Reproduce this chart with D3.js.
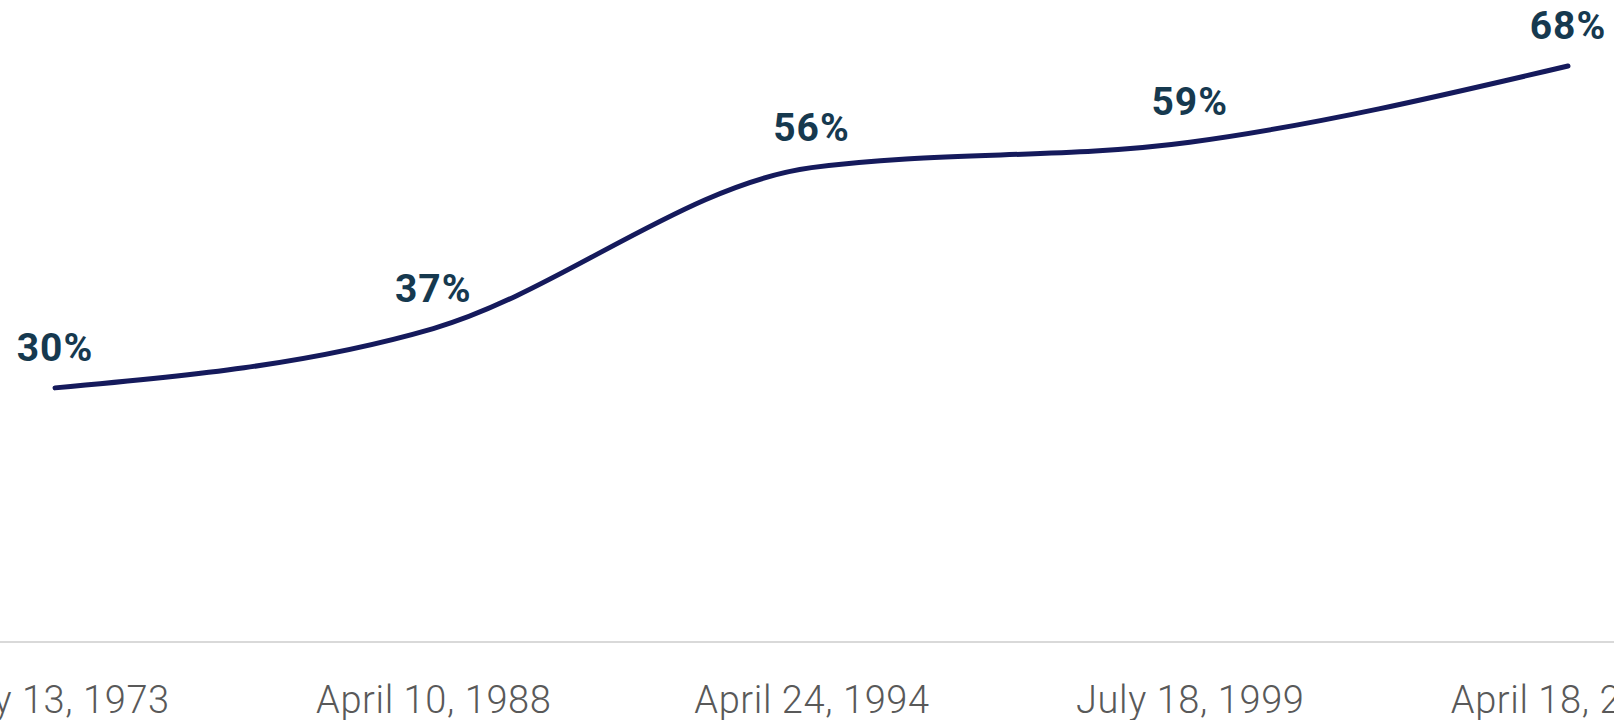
<!DOCTYPE html>
<html>
<head>
<meta charset="utf-8">
<script src="https://cdn.jsdelivr.net/npm/d3@7"></script>
<style>
  body { margin: 0; background: #fff; }
  svg { display: block; }
</style>
</head>
<body>
<div id="chart"></div>
<script>
const width = 1614;
const height = 720;
const margin = {left: 55, right: 46, top: 66, bottom: 78};

// poll dates and share values
const dates = ["July 13, 1973", "April 10, 1988", "April 24, 1994", "July 18, 1999", "April 18, 2004"];
const shares = [30, 37, 56, 59, 68];

const data = dates.map((d, i) => ({date: d, value: shares[i]}));

const svg = d3.select("#chart")
  .append("svg")
  .attr("width", width)
  .attr("height", height);

// evenly spaced categories, first and last point sit on the range ends
const xScale = d3.scalePoint()
  .domain(dates)
  .range([margin.left, width - margin.right]);

const yScale = d3.scaleLinear()
  .domain([0, d3.max(shares)])
  .range([height - margin.bottom, margin.top]);

// bottom axis: light rule, no ticks, grey date labels
const xAxis = svg.append("g")
  .attr("transform", `translate(0,${height - margin.bottom})`)
  .call(d3.axisBottom(xScale).tickSize(0).tickPadding(44));

xAxis.select(".domain")
  .attr("d", `M0,0H${width}`)
  .attr("stroke", "#d9d9d9")
  .attr("stroke-width", 2);

xAxis.selectAll("text")
  .attr("font-family", "Roboto, 'Noto Sans', sans-serif")
  .attr("font-size", "38px")
  .attr("font-weight", 300)
  .attr("letter-spacing", "0.6px")
  .attr("fill", "#595959");

const line = d3.line()
  .x(d => xScale(d.date))
  .y(d => yScale(d.value))
  .curve(d3.curveMonotoneX);

svg.append("path")
  .datum(data)
  .attr("d", line)
  .attr("fill", "none")
  .attr("stroke", "#151a5c")
  .attr("stroke-width", 5)
  .attr("stroke-linecap", "round");

// value labels above each point
svg.selectAll(".value-label")
  .data(data)
  .enter()
  .append("text")
    .attr("class", "value-label")
    .attr("x", d => xScale(d.date))
    .attr("y", d => yScale(d.value) - 27)
    .attr("text-anchor", "middle")
    .attr("font-family", "Roboto, 'Noto Sans', sans-serif")
    .attr("font-size", "39px")
    .attr("font-weight", 700)
    .attr("letter-spacing", "1px")
    .attr("fill", "#16394f")
    .text(d => d.value + "%");
</script>
</body>
</html>
